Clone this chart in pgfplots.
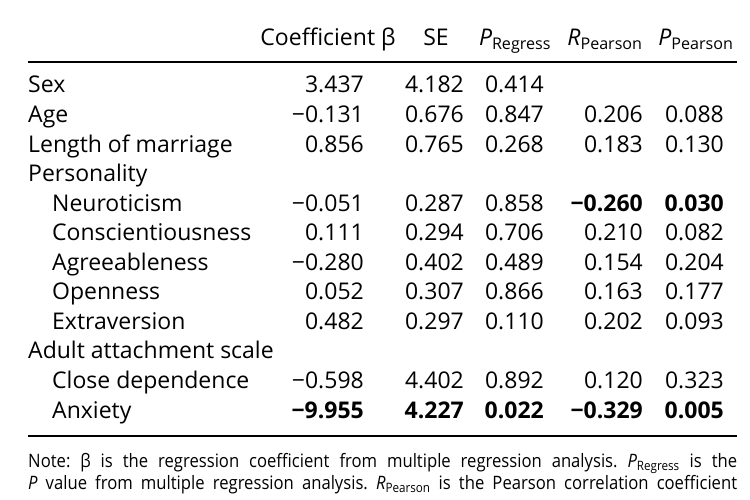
\documentclass[border=0pt]{standalone}
\usepackage{fontspec}
\setmainfont{Open Sans}
\newfontfamily\notefont[FakeStretch=0.9]{Open Sans}
\usepackage{pgfplots}
\usepackage{pgfplotstable}
\pgfplotsset{compat=1.18}

\pgfplotstableread[col sep=comma]{
i,lx,label,coef,se,preg,rp,pp
0,28,Sex,3.437,4.182,0.414,,
1,28,Age,−0.131,0.676,0.847,0.206,0.088
2,28,Length of marriage,0.856,0.765,0.268,0.183,0.130
3,28,Personality,,,,,
4,52,Neuroticism,−0.051,0.287,0.858,\bfseries −0.260,\bfseries 0.030
5,52,Conscientiousness,0.111,0.294,0.706,0.210,0.082
6,52,Agreeableness,−0.280,0.402,0.489,0.154,0.204
7,52,Openness,0.052,0.307,0.866,0.163,0.177
8,52,Extraversion,0.482,0.297,0.110,0.202,0.093
9,28,Adult attachment scale,,,,,
10,52,Close dependence,−0.598,4.402,0.892,0.120,0.323
11,52,Anxiety,\bfseries −9.955,\bfseries 4.227,\bfseries 0.022,\bfseries −0.329,\bfseries 0.005
}\tbl

\begin{document}
\fontsize{23}{27}\selectfont
\frenchspacing
\begin{tikzpicture}
\begin{axis}[
  at={(0,0)}, anchor=south west,
  width=750pt, height=500pt, scale only axis,
  xmin=0, xmax=750, ymin=0, ymax=500, y dir=reverse,
  axis lines=none, clip=false,
  nodes near coords, point meta=explicit symbolic,
  every node near coord/.append style={anchor=base east, inner sep=0pt, text=black},
]
\addplot[draw=none, mark=none, every node near coord/.append style={anchor=base west}]
  table[x=lx, y expr=93+29.55*\thisrow{i}, meta=label] {\tbl};
\addplot[draw=none, mark=none] table[x expr=364, y expr=93+29.55*\thisrow{i}, meta=coef] {\tbl};
\addplot[draw=none, mark=none] table[x expr=464, y expr=93+29.55*\thisrow{i}, meta=se] {\tbl};
\addplot[draw=none, mark=none] table[x expr=544, y expr=93+29.55*\thisrow{i}, meta=preg] {\tbl};
\addplot[draw=none, mark=none] table[x expr=643, y expr=93+29.55*\thisrow{i}, meta=rp] {\tbl};
\addplot[draw=none, mark=none] table[x expr=724, y expr=93+29.55*\thisrow{i}, meta=pp] {\tbl};

\node[anchor=base, inner sep=0pt] at (axis cs:328,46) {Coefficient β};
\node[anchor=base, inner sep=0pt] at (axis cs:436,46) {SE};
\node[anchor=base, inner sep=0pt] at (axis cs:515,46) {\textit{P}\textsubscript{Regress}};
\node[anchor=base, inner sep=0pt] at (axis cs:605,46) {\textit{R}\textsubscript{Pearson}};
\node[anchor=base, inner sep=0pt] at (axis cs:696,46) {\textit{P}\textsubscript{Pearson}};

\draw[line width=2pt] (axis cs:28,62) -- (axis cs:737,62);
\draw[line width=2pt] (axis cs:28,436) -- (axis cs:737,436);

\node[anchor=base west, inner sep=0pt] at (axis cs:28,467) {\fontsize{18.5}{22}\notefont\makebox[709pt][s]{Note: β is the regression coefficient from multiple regression analysis. \textit{P}\textsubscript{Regress} is the}};
\node[anchor=base west, inner sep=0pt] at (axis cs:28,489) {\fontsize{18.5}{22}\notefont\makebox[709pt][s]{\textit{P} value from multiple regression analysis. \textit{R}\textsubscript{Pearson} is the Pearson correlation coefficient}};
\end{axis}
\pgfresetboundingbox
\useasboundingbox (0,0) rectangle (750pt,500pt);
\end{tikzpicture}
\end{document}
